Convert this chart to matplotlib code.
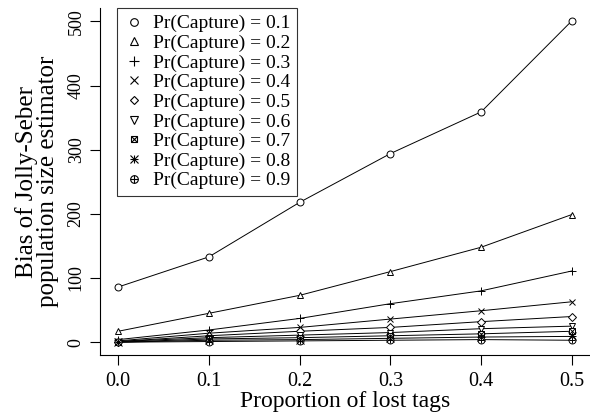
import numpy as np
import matplotlib
matplotlib.use("Agg")
import matplotlib.pyplot as plt
from matplotlib.lines import Line2D
from matplotlib.legend_handler import HandlerTuple

plt.rcParams['font.family'] = ['Liberation Serif', 'DejaVu Serif']

lost = [0.0, 0.1, 0.2, 0.3, 0.4, 0.5]
capture = [0.1, 0.2, 0.3, 0.4, 0.5, 0.6, 0.7, 0.8, 0.9]

bias_01 = [86, 133, 218, 294, 359, 501]
bias_02 = [17, 45, 73, 110, 148, 199]
bias_03 = [4, 19, 37, 60, 80, 111]
bias_04 = [2, 14, 23, 36, 49, 63]
bias_05 = [1, 10, 17, 23, 32, 40]
bias_06 = [1, 7, 11, 15, 21, 25]
bias_07 = [0, 5, 7, 10, 13, 17]
bias_08 = [0, 3, 4, 6, 8, 9]
bias_09 = [0, 1, 2, 3, 4, 3]

series = [bias_01, bias_02, bias_03, bias_04, bias_05,
          bias_06, bias_07, bias_08, bias_09]

# primary marker, overlay marker (R pch 7/8/10 are combined symbols)
marks = [('o', None), ('^', None), ('+', None), ('x', None), ('D', None),
         ('v', None), ('s', 'x'), ('+', 'x'), ('o', '+')]
msizes = [5, 5, 6, 5, 3.8, 5, 4.5, 5.5, 5]

fig = plt.figure(figsize=(5.9, 4.19), dpi=100)
ax = fig.add_axes([100/590, 1-355/419, 490/590, 347/419])

handles = []
for vals, (m1, m2), ms in zip(series, marks, msizes):
    ax.plot(lost, vals, color='black', lw=0.7, zorder=1)
    ax.plot(lost, vals, ls='none', marker=m1, ms=ms, mfc='white', mec='black',
            mew=0.7, zorder=2)
    h1 = Line2D([], [], ls='none', marker=m1, ms=ms+0.5, mfc='white', mec='black', mew=0.8)
    if m2 is not None:
        ax.plot(lost, vals, ls='none', marker=m2, ms=ms, mec='black', mew=0.7, zorder=3)
        h2 = Line2D([], [], ls='none', marker=m2, ms=ms+0.5, mec='black', mew=0.8)
        handles.append((h1, h2))
    else:
        handles.append(h1)

labels = ['Pr(Capture) = {}'.format(c) for c in capture]
leg = ax.legend(handles, labels, loc='upper left',
                bbox_to_anchor=(117/590, 1-8/419), bbox_transform=fig.transFigure,
                borderaxespad=0, fontsize=14, frameon=True, fancybox=False,
                edgecolor='black', handlelength=1.0, handletextpad=0.5,
                labelspacing=0.1, borderpad=0.35,
                handler_map={tuple: HandlerTuple(ndivide=1)})
leg.get_frame().set_linewidth(0.8)

ax.set_xlim(-0.02, 0.52)
ax.set_ylim(-20, 521)
ax.set_xticks(lost)
ax.set_xticklabels(['0.0', '0.1', '0.2', '0.3', '0.4', '0.5'])
ax.set_yticks([0, 100, 200, 300, 400, 500])
ax.tick_params(axis='y', labelrotation=90, labelsize=13, pad=4)
for lab in ax.get_yticklabels():
    lab.set_va('center')
ax.tick_params(axis='x', labelsize=14.5, pad=5)
ax.tick_params(length=7, width=0.8, direction='out')
ax.spines['top'].set_visible(False)
ax.spines['right'].set_visible(False)

ax.set_xlabel('Proportion of lost tags', fontsize=17, labelpad=0)
ax.set_ylabel('Bias of Jolly-Seber\npopulation size estimator', fontsize=18,
              labelpad=6, linespacing=0.95)

fig.savefig('out.png', dpi=100)
